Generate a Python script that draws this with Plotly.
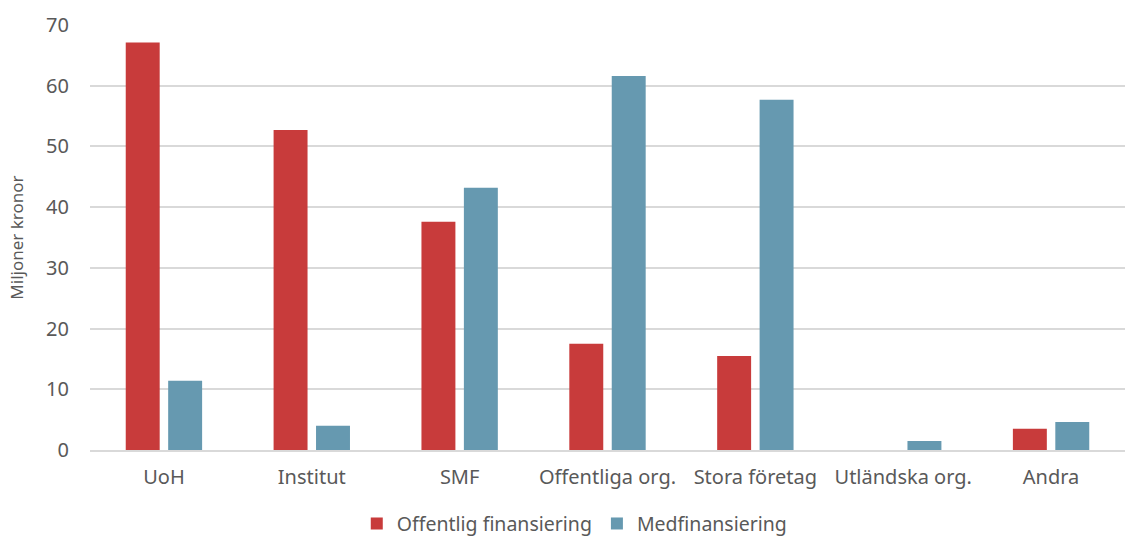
import plotly.graph_objects as go

categories = ["UoH", "Institut", "SMF", "Offentliga org.", "Stora företag", "Utländska org.", "Andra"]
offentlig = [67.1, 52.7, 37.6, 17.5, 15.5, 0, 3.5]
medfin = [11.4, 4.0, 43.2, 61.6, 57.7, 1.5, 4.6]
yticks = [0, 10, 20, 30, 40, 50, 60, 70]

fig = go.Figure()
fig.add_trace(go.Bar(x=categories, y=offentlig, name="Offentlig finansiering",
                     marker=dict(color="#C83B3B", line=dict(width=0))))
fig.add_trace(go.Bar(x=categories, y=medfin, name="Medfinansiering",
                     marker=dict(color="#6699B0", line=dict(width=0))))

font_family = "Noto Sans, sans-serif"
fig.update_layout(
    width=1127, height=540,
    margin=dict(l=90, r=2, t=25, b=90, autoexpand=False),
    plot_bgcolor="white", paper_bgcolor="white",
    barmode="group", bargap=0.426, bargroupgap=0.2,
    font=dict(family=font_family, color="#595959", size=20),
    legend=dict(orientation="h", xref="container", x=0.51, xanchor="center",
                yref="container", y=0.03, yanchor="middle",
                font=dict(size=19.5, color="#595959"), traceorder="normal",
                itemwidth=30, tracegroupgap=0),
    xaxis=dict(showgrid=False, showline=True, linecolor="#d9d9d9", linewidth=1.5,
               ticks="", tickfont=dict(size=20), ticklabelstandoff=8),
    yaxis=dict(range=[0, 70], tickvals=yticks, showgrid=True, gridcolor="#d9d9d9",
               gridwidth=1.5, zeroline=False, showline=False, ticks="",
               ticklabelstandoff=20,
               title=dict(text="Miljoner kronor", font=dict(size=17), standoff=18),
               tickfont=dict(size=20)),
)
fig.write_html("out.html")
